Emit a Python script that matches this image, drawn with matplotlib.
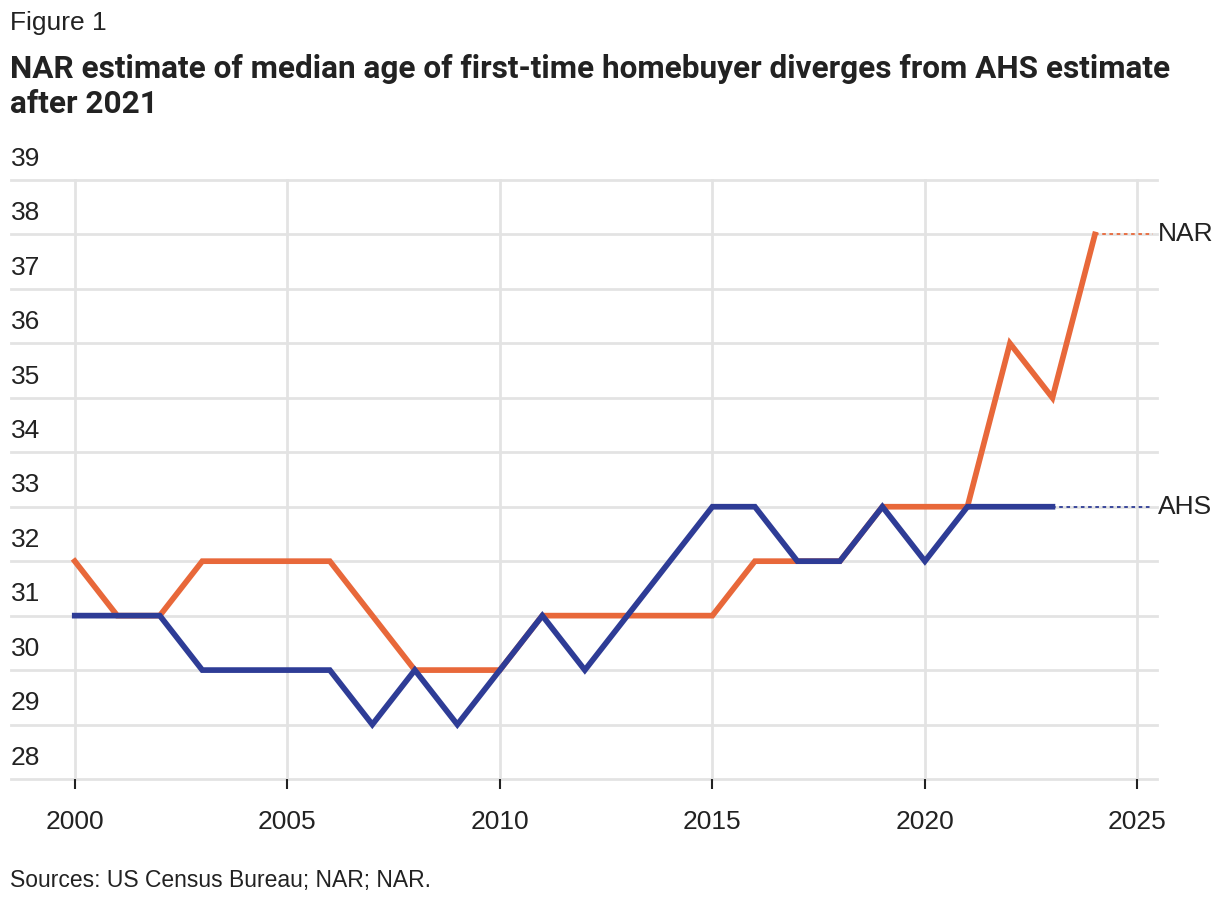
import matplotlib.pyplot as plt
from matplotlib import font_manager

years_nar = list(range(2000, 2025))
nar = [32, 31, 31, 32, 32, 32, 32, 31, 30, 30, 30, 31, 31, 31, 31, 31,
       32, 32, 32, 33, 33, 33, 36, 35, 38]
years_ahs = list(range(2000, 2024))
ahs = [31, 31, 31, 30, 30, 30, 30, 29, 30, 29, 30, 31, 30, 31, 32, 33,
       33, 32, 32, 33, 32, 33, 33, 33]
y_ticks = list(range(28, 40))
x_ticks = [2000, 2005, 2010, 2015, 2020, 2025]

orange = "#E8683A"
blue = "#2E3C96"
grid_c = "#E3E3E3"
text_c = "#222222"

names = {f.name for f in font_manager.fontManager.ttflist}
title_font = "Liberation Sans Narrow" if "Liberation Sans Narrow" in names else "Roboto"
body_font = "Liberation Sans"
plt.rcParams['font.family'] = [body_font, 'DejaVu Sans']

fig = plt.figure(figsize=(12.2, 9.08), dpi=100)
# axes from x=11..1157 px, y=180..779 px
ax = fig.add_axes([11 / 1220, 1 - 779 / 908, (1157 - 11) / 1220, (779 - 180) / 908])
ax.set_xlim(1998.5, 2025.46)
ax.set_ylim(28, 39)

for v in y_ticks:
    ax.axhline(v, color=grid_c, lw=2, zorder=0, clip_on=False)
    ax.text(1998.5, v + 0.17, str(v), ha='left', va='bottom', fontsize=19, color=text_c)
for x in x_ticks:
    ax.plot([x, x], [28, 39], color=grid_c, lw=2, zorder=0, clip_on=False)

ax.plot(years_nar, nar, color=orange, lw=4.1, solid_joinstyle='miter', zorder=3)
ax.plot(years_ahs, ahs, color=blue, lw=4.1, solid_joinstyle='miter', zorder=4)

ax.plot([years_nar[-1], 2025.36], [nar[-1], nar[-1]], color=orange, lw=1.3, ls=(0, (2, 2)), zorder=2)
ax.plot([years_ahs[-1], 2025.36], [ahs[-1], ahs[-1]], color=blue, lw=1.3, ls=(0, (2, 2)), zorder=2)
ax.annotate("NAR", (2025.36, nar[-1]), xytext=(4, 0), textcoords='offset points',
            va='center', ha='left', fontsize=19, color=text_c, annotation_clip=False)
ax.annotate("AHS", (2025.36, ahs[-1]), xytext=(4, 0), textcoords='offset points',
            va='center', ha='left', fontsize=19, color=text_c, annotation_clip=False)

ax.set_xticks(x_ticks)
ax.set_yticks([])
ax.tick_params(axis='x', length=7, width=1.5, color=text_c, labelsize=19,
               labelcolor=text_c, pad=15)
for s in ax.spines.values():
    s.set_visible(False)

fig.text(10 / 1220, 1 - 11 / 908, "Figure 1", ha='left', va='top', fontsize=19, color=text_c)
fig.text(10 / 1220, 1 - 54 / 908,
         "NAR estimate of median age of first-time homebuyer diverges from AHS estimate\nafter 2021",
         ha='left', va='top', fontsize=22.7, fontweight='bold', color=text_c,
         family=[title_font, 'DejaVu Sans'], linespacing=1.2)
fig.text(10 / 1220, 1 - 880 / 908, "Sources: US Census Bureau; NAR; NAR.", ha='left',
         va='center', fontsize=16.5, color=text_c)

fig.savefig("out.png", dpi=100)
